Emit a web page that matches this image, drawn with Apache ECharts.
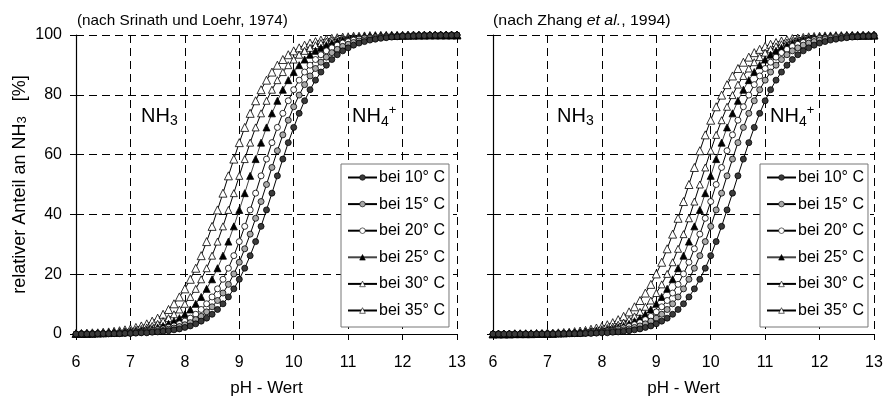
<!DOCTYPE html>
<html>
<head>
<meta charset="utf-8">
<script src="https://cdn.jsdelivr.net/npm/echarts@6/dist/echarts.min.js"></script>
<style>
html,body{margin:0;padding:0;background:#fff;}
#c{width:886px;height:401px;}
</style>
</head>
<body>
<div id="c"></div>
<script>
const pH = [6.0,6.1,6.2,6.3,6.4,6.5,6.6,6.7,6.8,6.9,7.0,7.1,7.2,7.3,7.4,7.5,7.6,7.7,7.8,7.9,8.0,8.1,8.2,8.3,8.4,8.5,8.6,8.7,8.8,8.9,9.0,9.1,9.2,9.3,9.4,9.5,9.6,9.7,9.8,9.9,10.0,10.1,10.2,10.3,10.4,10.5,10.6,10.7,10.8,10.9,11.0,11.1,11.2,11.3,11.4,11.5,11.6,11.7,11.8,11.9,12.0,12.1,12.2,12.3,12.4,12.5,12.6,12.7,12.8,12.9,13.0];

const seriesNames = ['bei 10° C','bei 15° C','bei 20° C','bei 25° C','bei 30° C','bei 35° C'];
const xTicks = [6,7,8,9,10,11,12,13];
const yTicks = [0,20,40,60,80,100];

// Left panel (nach Srinath und Loehr, 1974)
const left10 = [0,0,0,0,0.1,0.1,0.1,0.1,0.1,0.2,0.2,0.3,0.4,0.4,0.6,0.7,0.9,1.1,1.4,1.7,2.2,2.7,3.4,4.3,5.3,6.6,8.2,10.1,12.4,15.1,18.3,22.0,26.2,30.9,36.0,41.5,47.1,52.9,58.5,64.0,69.1,73.8,78.0,81.7,84.9,87.6,89.9,91.8,93.4,94.7,95.7,96.6,97.3,97.8,98.3,98.6,98.9,99.1,99.3,99.4,99.6,99.6,99.7,99.8,99.8,99.9,99.9,99.9,99.9,99.9,100];
const left15 = [0,0,0,0.1,0.1,0.1,0.1,0.2,0.2,0.3,0.3,0.4,0.5,0.6,0.8,1.0,1.2,1.6,2.0,2.5,3.1,3.8,4.8,5.9,7.4,9.1,11.2,13.7,16.6,20.1,24.0,28.5,33.4,38.7,44.3,50.0,55.7,61.3,66.6,71.5,76.0,79.9,83.4,86.3,88.8,90.9,92.6,94.1,95.2,96.2,96.9,97.5,98.0,98.4,98.8,99.0,99.2,99.4,99.5,99.6,99.7,99.7,99.8,99.8,99.9,99.9,99.9,99.9,99.9,100,100];
const left20 = [0,0.1,0.1,0.1,0.1,0.1,0.2,0.2,0.3,0.4,0.4,0.6,0.7,0.9,1.1,1.4,1.7,2.2,2.7,3.4,4.3,5.3,6.6,8.2,10.1,12.4,15.1,18.3,22.0,26.2,30.9,36.0,41.5,47.1,52.9,58.5,64.0,69.1,73.8,78.0,81.7,84.9,87.6,89.9,91.8,93.4,94.7,95.7,96.6,97.3,97.8,98.3,98.6,98.9,99.1,99.3,99.4,99.6,99.6,99.7,99.8,99.8,99.9,99.9,99.9,99.9,99.9,100,100,100,100];
const left25 = [0.1,0.1,0.1,0.1,0.2,0.2,0.3,0.4,0.4,0.6,0.7,0.9,1.1,1.4,1.7,2.2,2.7,3.4,4.3,5.3,6.6,8.2,10.1,12.4,15.1,18.3,22.0,26.2,30.9,36.0,41.5,47.1,52.9,58.5,64.0,69.1,73.8,78.0,81.7,84.9,87.6,89.9,91.8,93.4,94.7,95.7,96.6,97.3,97.8,98.3,98.6,98.9,99.1,99.3,99.4,99.6,99.6,99.7,99.8,99.8,99.9,99.9,99.9,99.9,99.9,100,100,100,100,100,100];
const left30 = [0.1,0.1,0.2,0.2,0.3,0.4,0.4,0.6,0.7,0.9,1.1,1.4,1.7,2.2,2.7,3.4,4.3,5.3,6.6,8.2,10.1,12.4,15.1,18.3,22.0,26.2,30.9,36.0,41.5,47.1,52.9,58.5,64.0,69.1,73.8,78.0,81.7,84.9,87.6,89.9,91.8,93.4,94.7,95.7,96.6,97.3,97.8,98.3,98.6,98.9,99.1,99.3,99.4,99.6,99.6,99.7,99.8,99.8,99.9,99.9,99.9,99.9,99.9,100,100,100,100,100,100,100,100];
const left35 = [0.2,0.2,0.3,0.4,0.4,0.6,0.7,0.9,1.1,1.4,1.7,2.2,2.7,3.4,4.3,5.3,6.6,8.2,10.1,12.4,15.1,18.3,22.0,26.2,30.9,36.0,41.5,47.1,52.9,58.5,64.0,69.1,73.8,78.0,81.7,84.9,87.6,89.9,91.8,93.4,94.7,95.7,96.6,97.3,97.8,98.3,98.6,98.9,99.1,99.3,99.4,99.6,99.6,99.7,99.8,99.8,99.9,99.9,99.9,99.9,99.9,100,100,100,100,100,100,100,100,100,100];

// Right panel (nach Zhang et al., 1994)
const right10 = [0,0,0,0,0,0,0,0,0,0,0,0,0.1,0.1,0.1,0.1,0.1,0.2,0.2,0.3,0.4,0.4,0.6,0.7,0.9,1.1,1.4,1.7,2.2,2.7,3.4,4.3,5.3,6.6,8.2,10.1,12.4,15.1,18.3,22.0,26.2,30.9,36.0,41.5,47.1,52.9,58.5,64.0,69.1,73.8,78.0,81.7,84.9,87.6,89.9,91.8,93.4,94.7,95.7,96.6,97.3,97.8,98.3,98.6,98.9,99.1,99.3,99.4,99.6,99.6,99.7];
const right15 = [0,0,0,0,0,0,0,0,0,0,0.1,0.1,0.1,0.1,0.1,0.2,0.2,0.3,0.4,0.4,0.6,0.7,0.9,1.1,1.4,1.7,2.2,2.7,3.4,4.3,5.3,6.6,8.2,10.1,12.4,15.1,18.3,22.0,26.2,30.9,36.0,41.5,47.1,52.9,58.5,64.0,69.1,73.8,78.0,81.7,84.9,87.6,89.9,91.8,93.4,94.7,95.7,96.6,97.3,97.8,98.3,98.6,98.9,99.1,99.3,99.4,99.6,99.6,99.7,99.8,99.8];
const right20 = [0,0,0,0,0,0,0,0,0,0.1,0.1,0.1,0.1,0.2,0.2,0.3,0.3,0.4,0.5,0.6,0.8,1.0,1.2,1.6,2.0,2.5,3.1,3.8,4.8,5.9,7.4,9.1,11.2,13.7,16.6,20.1,24.0,28.5,33.4,38.7,44.3,50.0,55.7,61.3,66.6,71.5,76.0,79.9,83.4,86.3,88.8,90.9,92.6,94.1,95.2,96.2,96.9,97.5,98.0,98.4,98.8,99.0,99.2,99.4,99.5,99.6,99.7,99.7,99.8,99.8,99.9];
const right25 = [0,0,0,0,0,0,0,0.1,0.1,0.1,0.1,0.1,0.2,0.2,0.3,0.4,0.4,0.6,0.7,0.9,1.1,1.4,1.7,2.2,2.7,3.4,4.3,5.3,6.6,8.2,10.1,12.4,15.1,18.3,22.0,26.2,30.9,36.0,41.5,47.1,52.9,58.5,64.0,69.1,73.8,78.0,81.7,84.9,87.6,89.9,91.8,93.4,94.7,95.7,96.6,97.3,97.8,98.3,98.6,98.9,99.1,99.3,99.4,99.6,99.6,99.7,99.8,99.8,99.9,99.9,99.9];
const right30 = [0,0,0,0,0,0,0.1,0.1,0.1,0.1,0.2,0.2,0.3,0.3,0.4,0.5,0.6,0.8,1.0,1.2,1.6,2.0,2.5,3.1,3.8,4.8,5.9,7.4,9.1,11.2,13.7,16.6,20.1,24.0,28.5,33.4,38.7,44.3,50.0,55.7,61.3,66.6,71.5,76.0,79.9,83.4,86.3,88.8,90.9,92.6,94.1,95.2,96.2,96.9,97.5,98.0,98.4,98.8,99.0,99.2,99.4,99.5,99.6,99.7,99.7,99.8,99.8,99.9,99.9,99.9,99.9];
const right35 = [0,0,0,0,0.1,0.1,0.1,0.1,0.2,0.2,0.3,0.3,0.4,0.5,0.6,0.8,1.0,1.2,1.6,2.0,2.5,3.1,3.8,4.8,5.9,7.4,9.1,11.2,13.7,16.6,20.1,24.0,28.5,33.4,38.7,44.3,50.0,55.7,61.3,66.6,71.5,76.0,79.9,83.4,86.3,88.8,90.9,92.6,94.1,95.2,96.2,96.9,97.5,98.0,98.4,98.8,99.0,99.2,99.4,99.5,99.6,99.7,99.7,99.8,99.8,99.9,99.9,99.9,99.9,99.9,100];

const leftData = [left10,left15,left20,left25,left30,left35];
const rightData = [right10,right15,right20,right25,right30,right35];

const FONT = 'Liberation Sans, Arial, sans-serif';
const markerStyles = [
  {symbol:'circle', size:6, fill:'#3a3a3a'},
  {symbol:'circle', size:6, fill:'#a8a8a8'},
  {symbol:'circle', size:6, fill:'#ffffff'},
  {symbol:'triangle', size:7, fill:'#000000'},
  {symbol:'triangle', size:7, fill:'#ffffff'},
  {symbol:'triangle', size:8, fill:'#ffffff'}
];

function pairs(vals){ return pH.map((x,i)=>[x, vals[i]]); }

function makeSeries(dataArr, gi){
  return dataArr.map((vals,k)=>({
    type:'line',
    name: seriesNames[k],
    xAxisIndex: gi, yAxisIndex: gi,
    data: pairs(vals),
    symbol: markerStyles[k].symbol,
    symbolSize: markerStyles[k].size,
    showAllSymbol: true,
    lineStyle: {color: k===3 ? '#444' : '#000', width: 1},
    itemStyle: {color: markerStyles[k].fill, borderColor:'#000', borderWidth:0.8},
    z: 10 - k,
    silent: true
  })).reverse();
}

const dashed = {show:true, lineStyle:{color:'#000', type:[8,5], width:1}};

function xAxis(gi){
  return {
    type:'value', gridIndex:gi, min:6, max:13, interval:1,
    name:'pH - Wert', nameLocation:'middle', nameGap:46,
    nameTextStyle:{fontFamily:FONT, fontSize:17, color:'#000'},
    axisLine:{show:true, onZero:false, lineStyle:{color:'#000', width:1.2}},
    axisTick:{show:true, inside:false, length:6, lineStyle:{color:'#000'}},
    axisLabel:{fontFamily:FONT, fontSize:16, color:'#000', margin:21,
      formatter: v => xTicks.indexOf(v) >= 0 ? String(v) : ''},
    splitLine: dashed
  };
}
function yAxis(gi){
  return {
    type:'value', gridIndex:gi, min:0, max:100, interval:20,
    name: gi===0 ? '{a|relativer Anteil an NH}{s|3}{a|   [%]}' : '',
    nameLocation:'middle', nameGap:47, nameRotate:90,
    nameTextStyle:{fontFamily:FONT, color:'#000',
      rich:{a:{fontFamily:FONT, fontSize:18, color:'#000'}, s:{fontFamily:FONT, fontSize:13, color:'#000', verticalAlign:'bottom'}}},
    axisLine:{show:true, onZero:false, lineStyle:{color:'#000', width:1.2}},
    axisTick:{show:true, inside:false, length:6, lineStyle:{color:'#000'}},
    axisLabel:{show: gi===0, fontFamily:FONT, fontSize:16, color:'#000', margin:14,
      formatter: v => yTicks.indexOf(v) >= 0 ? String(v) : ''},
    splitLine: dashed
  };
}

function legend(left){
  return {
    orient:'vertical', left:left, top:164,
    data: seriesNames,
    backgroundColor:'#fff', borderColor:'#777', borderWidth:1,
    padding:[5,4,8,6], itemGap:9.6, itemWidth:29, itemHeight:7,
    itemStyle:{borderWidth:0.6},
    textStyle:{fontFamily:FONT, fontSize:16, lineHeight:17, color:'#000', padding:[0,0,0,-3]},
    selectedMode:false, z:20
  };
}

function nhLabel(x, y, four){
  return {
    type:'text', left:x, top:y, z:30,
    style:{
      text: four ? '{a|NH}{s|4}{p|+}' : '{a|NH}{s|3}',
      rich:{
        a:{fontFamily:FONT, fontSize:20, color:'#000', lineHeight:25},
        s:{fontFamily:FONT, fontSize:14, color:'#000', verticalAlign:'bottom'},
        p:{fontFamily:FONT, fontSize:13, color:'#000', verticalAlign:'top'}
      }
    }
  };
}

const chart = echarts.init(document.getElementById('c'), null, {renderer:'canvas'});
chart.setOption({
  animation:false,
  backgroundColor:'#fff',
  grid:[
    {left:76, top:35, width:381, height:299, outerBoundsMode:'none', containLabel:false},
    {left:493, top:35, width:381, height:299, outerBoundsMode:'none', containLabel:false}
  ],
  xAxis:[xAxis(0), xAxis(1)],
  yAxis:[yAxis(0), yAxis(1)],
  legend:[legend(341), legend(760)],
  series: makeSeries(leftData,0).concat(makeSeries(rightData,1)),
  graphic:[
    {type:'text', x:77, y:13, scaleX:1.02, style:{text:'(nach Srinath und Loehr, 1974)', fontFamily:FONT, fontSize:15, fill:'#000'}},
    {type:'text', x:493, y:13, scaleX:1.06, style:{
      text:'{a|(nach Zhang }{i|et al.}{a|, 1994)}',
      rich:{a:{fontFamily:FONT, fontSize:15, color:'#000'}, i:{fontFamily:FONT, fontSize:15, fontStyle:'italic', color:'#000'}}}},
    nhLabel(141, 106, false),
    nhLabel(352, 104, true),
    nhLabel(557, 106, false),
    nhLabel(770, 104, true)
  ]
});
</script>
</body>
</html>
